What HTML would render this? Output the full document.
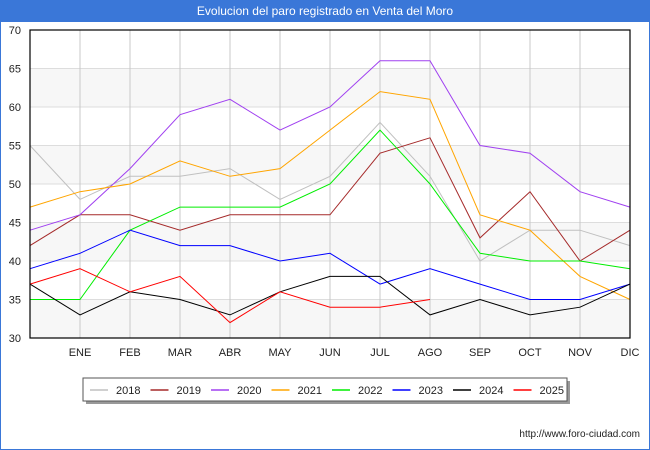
<!DOCTYPE html>
<html><head><meta charset="utf-8"><style>
body{margin:0;background:#fff;font-family:"Liberation Sans","DejaVu Sans",sans-serif}
#wrap{position:relative;width:648px;height:448px;border:1px solid #3a77d8;overflow:hidden;background:#fff}
#title{height:21px;background:#3a77d8;color:#fff;font-size:12px;text-align:center;line-height:21px}
</style></head><body>
<div id="wrap">
<div id="title">Evolucion del paro registrado en Venta del Moro</div>
<svg id="chart" width="650" height="450" style="position:absolute;left:-1px;top:-1px"></svg>
</div>
<script>
const months=["","ENE","FEB","MAR","ABR","MAY","JUN","JUL","AGO","SEP","OCT","NOV","DIC"];
const yTicks=[30,35,40,45,50,55,60,65,70];
const seriesNames=["2018","2019","2020","2021","2022","2023","2024","2025"];
const seriesColors=["#c0c0c0","#a52a2a","#a040f0","#ffa500","#00ee00","#0000ff","#000000","#ff0000"];
const s2018=[55,48,51,51,52,48,51,58,51,40,44,44,42];
const s2019=[42,46,46,44,46,46,46,54,56,43,49,40,44];
const s2020=[44,46,52,59,61,57,60,66,66,55,54,49,47];
const s2021=[47,49,50,53,51,52,57,62,61,46,44,38,35];
const s2022=[35,35,44,47,47,47,50,57,50,41,40,40,39];
const s2023=[39,41,44,42,42,40,41,37,39,37,35,35,37];
const s2024=[37,33,36,35,33,36,38,38,33,35,33,34,37];
const s2025=[37,39,36,38,32,36,34,34,35];
const allSeries=[s2018,s2019,s2020,s2021,s2022,s2023,s2024,s2025];
const NS="http://www.w3.org/2000/svg";
const svg=document.getElementById('chart');
const L=30,R=630,T=30,B=338;
const x=i=>L+i*(R-L)/12;
const y=v=>B-(v-30)*(B-T)/40;
function mk(t,a,p){const e=document.createElementNS(NS,t);for(const k in a)e.setAttribute(k,a[k]);(p||svg).appendChild(e);return e;}
// bands
for(let v=30;v<70;v+=10){
 const r=mk('rect',{x:L,y:y(v+5),width:R-L,height:y(v)-y(v+5),fill:'#f7f7f7'});
 
 
}
yTicks.forEach(v=>{
 const l=mk('line',{x1:L,x2:R,y1:y(v),y2:y(v),stroke:'#dddddd','stroke-width':1});
 
 
 const t=mk('text',{x:L-9,y:y(v)+4,'text-anchor':'end','font-size':11,fill:'#222'});
 t.textContent=v;
 
 
});
months.forEach((m,i)=>{
 if(i>0){
 const l=mk('line',{x1:x(i),x2:x(i),y1:T,y2:B,stroke:'#c8c8c8','stroke-width':1});
 
 
 const t=mk('text',{x:x(i),y:B+18,'text-anchor':'middle','font-size':11,fill:'#222'});
 t.textContent=m;
 
 
 }
});
allSeries.forEach((s,k)=>{
 const p=mk('polyline',{points:s.map((v,i)=>x(i)+','+y(v)).join(' '),fill:'none',stroke:seriesColors[k],'stroke-width':1});
 
 
});
const fr=mk('rect',{x:L,y:T,width:R-L,height:B-T,fill:'none',stroke:'#000','stroke-width':1.2});


// legend
const lg=mk('g',{});


mk('rect',{x:86,y:381,width:484,height:23,fill:'#999'},lg);
mk('rect',{x:83,y:378,width:484,height:23,fill:'#fff',stroke:'#555','stroke-width':1},lg);
seriesNames.forEach((n,k)=>{
 const gx=90+k*60.5;
 const e=mk('g',{},lg);
 
 
 mk('line',{x1:gx,x2:gx+18,y1:390,y2:390,stroke:seriesColors[k],'stroke-width':1.5},e);
 const t=mk('text',{x:gx+26,y:394,'font-size':11,fill:'#222'},e);
 t.textContent=n;
});
const ft=mk('text',{x:640,y:437,'text-anchor':'end','font-size':10,fill:'#222'});
ft.textContent='http://www.foro-ciudad.com';


</script>
</body></html>
